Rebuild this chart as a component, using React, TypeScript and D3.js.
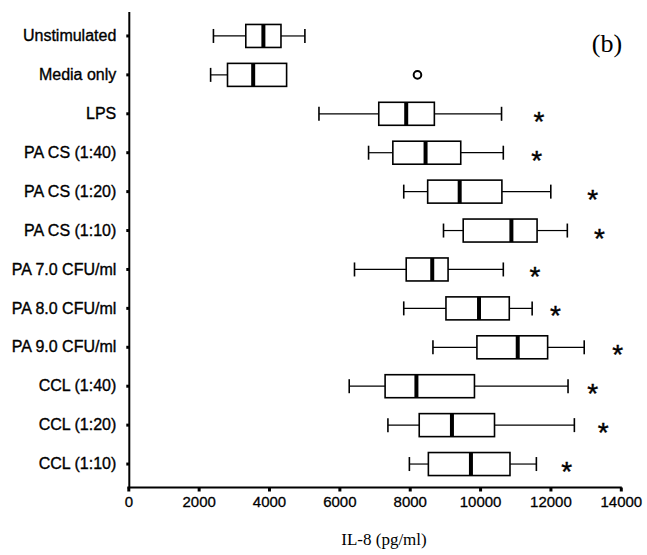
import React, { useEffect, useRef } from 'react';
import * as d3 from 'd3';

// groups, top to bottom
const groups = [
  'Unstimulated',
  'Media only',
  'LPS',
  'PA CS (1:40)',
  'PA CS (1:20)',
  'PA CS (1:10)',
  'PA 7.0 CFU/ml',
  'PA 8.0 CFU/ml',
  'PA 9.0 CFU/ml',
  'CCL (1:40)',
  'CCL (1:20)',
  'CCL (1:10)',
];

// five-number summaries (pg/ml)
const whiskerLow = [2420, 2340, 5420, 6830, 7830, 8960, 6430, 7830, 8660, 6280, 7380, 7990];
const quartile1 = [3340, 2820, 7120, 7520, 8510, 9520, 7900, 9030, 9910, 7300, 8270, 8530];
const medians = [3840, 3550, 7900, 8450, 9420, 10890, 8640, 9970, 11070, 8190, 9200, 9740];
const quartile3 = [4340, 4500, 8700, 9450, 10620, 11620, 9090, 10830, 11920, 9840, 10410, 10850];
const whiskerHigh = [5020, 4500, 10610, 10660, 12010, 12480, 10660, 11480, 12960, 12500, 12680, 11600];

// outliers
const outlierGroups = ['Media only'];
const outlierValues = [8220];

// significance stars (x position in pg/ml, null = none)
const starAt = [null, null, 11670, 11610, 13200, 13390, 11560, 12140, 13910, 13200, 13500, 12460];

const xTicks = [0, 2000, 4000, 6000, 8000, 10000, 12000, 14000];

const W = 647;
const H = 555;

const App = () => {
  const svgRef = useRef<SVGSVGElement>(null);

  useEffect(() => {
    const svg = d3.select(svgRef.current);
    svg.selectAll('*').remove();

    const x = d3.scaleLinear().domain([0, 14000]).range([128.3, 620.8]);
    const y = d3.scaleBand().domain(groups).range([16.5, 483.5]).padding(0);
    const axisY = 487.5;
    const boxH = 23;
    const capH = 14;
    const sans = 'Arial, "Liberation Sans", sans-serif';
    const serif = '"Times New Roman", "Liberation Serif", serif';

    const cy = (g: string) => (y(g) as number) + y.bandwidth() / 2;

    // x axis
    const xAxis = svg.append('g')
      .attr('transform', `translate(0,${axisY})`)
      .call(d3.axisBottom(x).tickValues(xTicks).tickSize(4).tickPadding(5).tickFormat(d3.format('d')));
    xAxis.select('.domain').attr('stroke', '#000').attr('stroke-width', 2)
      .attr('d', `M${x(0) - 1},0H${x(14000) + 1}`);
    xAxis.selectAll('.tick line').attr('stroke', '#000').attr('stroke-width', 3);
    xAxis.selectAll('.tick text')
      .attr('fill', '#000')
      .attr('stroke', '#000')
      .attr('stroke-width', 0.3)
      .style('font-family', sans)
      .style('font-size', '15px');

    // y axis
    const yAxis = svg.append('g')
      .attr('transform', `translate(${x(0) + 1},0)`)
      .call(d3.axisLeft(y).tickSize(3).tickPadding(10));
    yAxis.select('.domain').attr('stroke', '#000').attr('stroke-width', 2)
      .attr('d', `M0,12V${axisY}`);
    yAxis.selectAll('.tick line').attr('stroke', '#000').attr('stroke-width', 3);
    yAxis.selectAll('.tick text')
      .attr('fill', '#000')
      .attr('stroke', '#000')
      .attr('stroke-width', 0.35)
      .style('font-family', sans)
      .style('font-size', '16px');

    // boxes
    const boxes = svg.append('g').selectAll('g')
      .data(groups)
      .enter()
      .append('g');

    boxes.append('line')
      .attr('x1', (d, i) => x(whiskerLow[i]))
      .attr('x2', (d, i) => x(quartile1[i]))
      .attr('y1', d => cy(d))
      .attr('y2', d => cy(d))
      .attr('stroke', '#000')
      .attr('stroke-width', 1.2);

    boxes.append('line')
      .attr('x1', (d, i) => x(quartile3[i]))
      .attr('x2', (d, i) => x(whiskerHigh[i]))
      .attr('y1', d => cy(d))
      .attr('y2', d => cy(d))
      .attr('stroke', '#000')
      .attr('stroke-width', 1.2);

    // whisker caps
    boxes.append('line')
      .attr('x1', (d, i) => x(whiskerLow[i]))
      .attr('x2', (d, i) => x(whiskerLow[i]))
      .attr('y1', d => cy(d) - capH / 2)
      .attr('y2', d => cy(d) + capH / 2)
      .attr('stroke', '#000')
      .attr('stroke-width', 1.6);

    boxes.filter((d, i) => whiskerHigh[i] > quartile3[i])
      .append('line')
      .attr('x1', d => x(whiskerHigh[groups.indexOf(d)]))
      .attr('x2', d => x(whiskerHigh[groups.indexOf(d)]))
      .attr('y1', d => cy(d) - capH / 2)
      .attr('y2', d => cy(d) + capH / 2)
      .attr('stroke', '#000')
      .attr('stroke-width', 1.6);

    boxes.append('rect')
      .attr('x', (d, i) => x(quartile1[i]))
      .attr('y', d => cy(d) - boxH / 2)
      .attr('width', (d, i) => x(quartile3[i]) - x(quartile1[i]))
      .attr('height', boxH)
      .attr('fill', '#fff')
      .attr('stroke', '#000')
      .attr('stroke-width', 1.6);

    boxes.append('line')
      .attr('x1', (d, i) => x(medians[i]))
      .attr('x2', (d, i) => x(medians[i]))
      .attr('y1', d => cy(d) - boxH / 2)
      .attr('y2', d => cy(d) + boxH / 2)
      .attr('stroke', '#000')
      .attr('stroke-width', 4);

    // outliers
    svg.append('g').selectAll('circle')
      .data(outlierValues)
      .enter()
      .append('circle')
      .attr('cx', d => x(d))
      .attr('cy', (d, i) => cy(outlierGroups[i]))
      .attr('r', 3.8)
      .attr('fill', 'none')
      .attr('stroke', '#000')
      .attr('stroke-width', 2);

    // stars
    svg.append('g').selectAll('text')
      .data(groups.filter((d, i) => starAt[i] !== null))
      .enter()
      .append('text')
      .attr('x', d => x(starAt[groups.indexOf(d)] as number))
      .attr('y', d => cy(d) + 17)
      .attr('text-anchor', 'middle')
      .attr('stroke', '#000')
      .attr('stroke-width', 0.4)
      .style('font-family', sans)
      .style('font-size', '28px')
      .text('*');

    // panel label
    svg.append('text')
      .attr('x', 607)
      .attr('y', 52)
      .attr('text-anchor', 'middle')
      .style('font-family', serif)
      .style('font-size', '26px')
      .text('(b)');

    // axis title
    svg.append('text')
      .attr('x', 384)
      .attr('y', 545)
      .attr('text-anchor', 'middle')
      .style('font-family', serif)
      .style('font-size', '17px')
      .text('IL-8 (pg/ml)');
  }, []);

  return (
    <svg
      ref={svgRef}
      width={W}
      height={H}
      style={{ position: 'absolute', left: 0, top: 0, background: '#fff' }}
    ></svg>
  );
};

export default App;
